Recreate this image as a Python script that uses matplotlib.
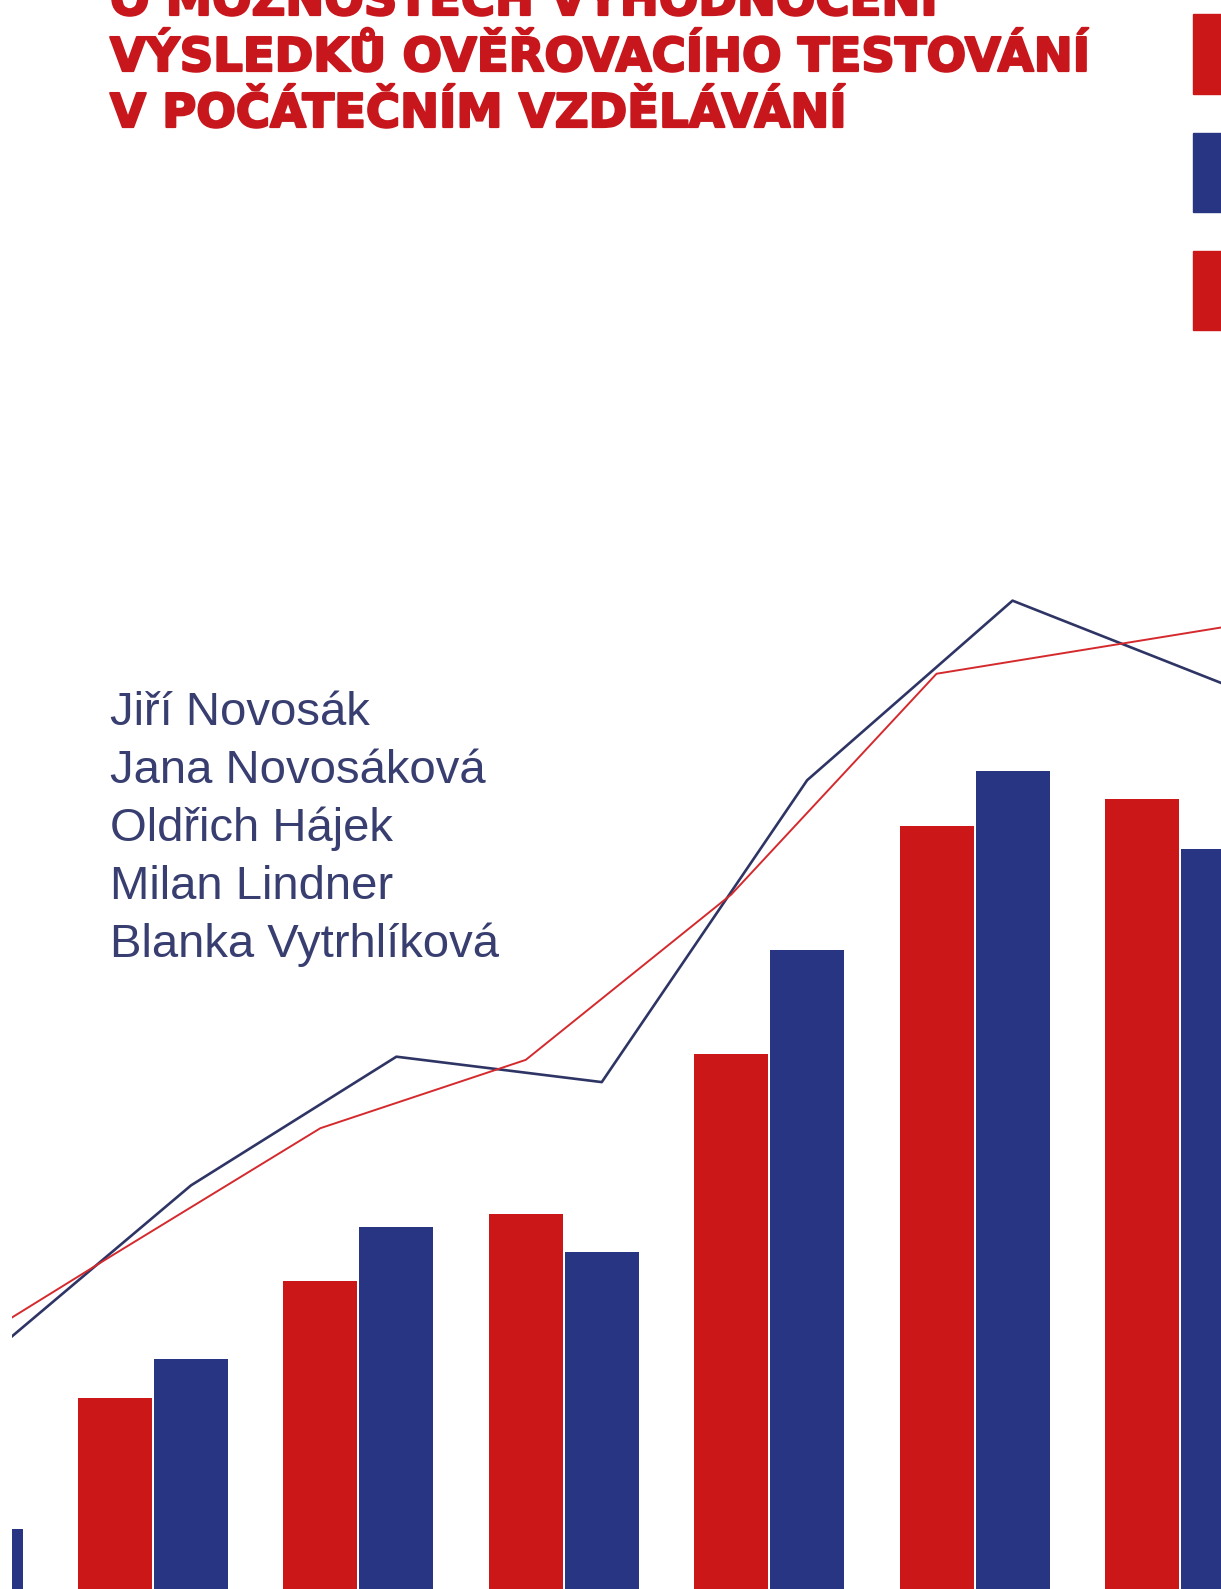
import numpy as np
import matplotlib
matplotlib.use("Agg")
import matplotlib.pyplot as plt
import matplotlib.patheffects as pe
from matplotlib.patches import Rectangle

# bar groups (index 0 is mostly cut off on the left edge)
groups = [0, 1, 2, 3, 4, 5, 6]
red_bars = [2.5, 12.0, 19.4, 23.6, 33.7, 48.0, 49.7]
blue_bars = [3.8, 14.5, 22.8, 21.2, 40.2, 51.5, 46.6]

# trend lines, one point per group (last one runs off the right edge)
line_groups = [0, 1, 2, 3, 4, 5, 6, 7]
red_line = [13.1, 21.1, 29.0, 33.3, 43.7, 57.6, 59.7, 61.8]
blue_line = [14.5, 25.4, 33.5, 31.9, 50.9, 62.2, 57.1, 52.0]

title_lines = ["O MOŽNOSTECH VYHODNOCENÍ",
               "VÝSLEDKŮ OVĚŘOVACÍHO TESTOVÁNÍ",
               "V POČÁTEČNÍM VZDĚLÁVÁNÍ"]
authors = ["Jiří Novosák", "Jana Novosáková", "Oldřich Hájek",
           "Milan Lindner", "Blanka Vytrhlíková"]

RED = "#cc1719"
BLUE = "#283583"
TITLE_RED = "#c8161d"
LINE_RED = "#d42a2e"
LINE_BLUE = "#2e3565"
TEXT_BLUE = "#383e70"

W, H = 1221, 1589
fig = plt.figure(figsize=(W / 100, H / 100), dpi=100)
fig.patch.set_facecolor("white")

ax = fig.add_axes([12 / W, 0, 1 - 12 / W, 1])
ax.set_facecolor("none")
x = np.array(groups)
bw = 0.36
ax.bar(x - 0.185, red_bars, width=bw, color=RED, zorder=2)
ax.bar(x + 0.185, blue_bars, width=bw, color=BLUE, zorder=2)
lx = np.array(line_groups)
ax.plot(lx + 0.185, blue_line, color=LINE_BLUE, lw=1.9, zorder=3)
ax.plot(lx - 0.185, red_line, color=LINE_RED, lw=1.4, zorder=3)
ax.set_xlim(0.3135, 6.2)
ax.set_ylim(0, 100)
ax.axis("off")

# title, partly cut off at the top
heavy = [pe.Stroke(linewidth=1.6, foreground=TITLE_RED), pe.Normal()]
for i, t in enumerate(title_lines):
    fig.text(110 / W, 1 - (15 + 56 * i) / H, t, color=TITLE_RED,
             fontsize=33.5, fontweight="bold", family="DejaVu Sans",
             va="baseline", ha="left", path_effects=heavy)

# author names
for i, a in enumerate(authors):
    fig.text(110 / W, 1 - (725 + 58 * i) / H, a, color=TEXT_BLUE,
             fontsize=34, family="Liberation Sans",
             va="baseline", ha="left")

# decorative blocks on the right edge
for (y0, y1), c in zip([(14, 94), (133, 212), (251, 330)], [RED, BLUE, RED]):
    fig.patches.append(Rectangle((1193 / W, 1 - y1 / H), 28 / W, (y1 - y0) / H,
                                 transform=fig.transFigure, color=c, zorder=1))

fig.savefig("out.png", dpi=100)
